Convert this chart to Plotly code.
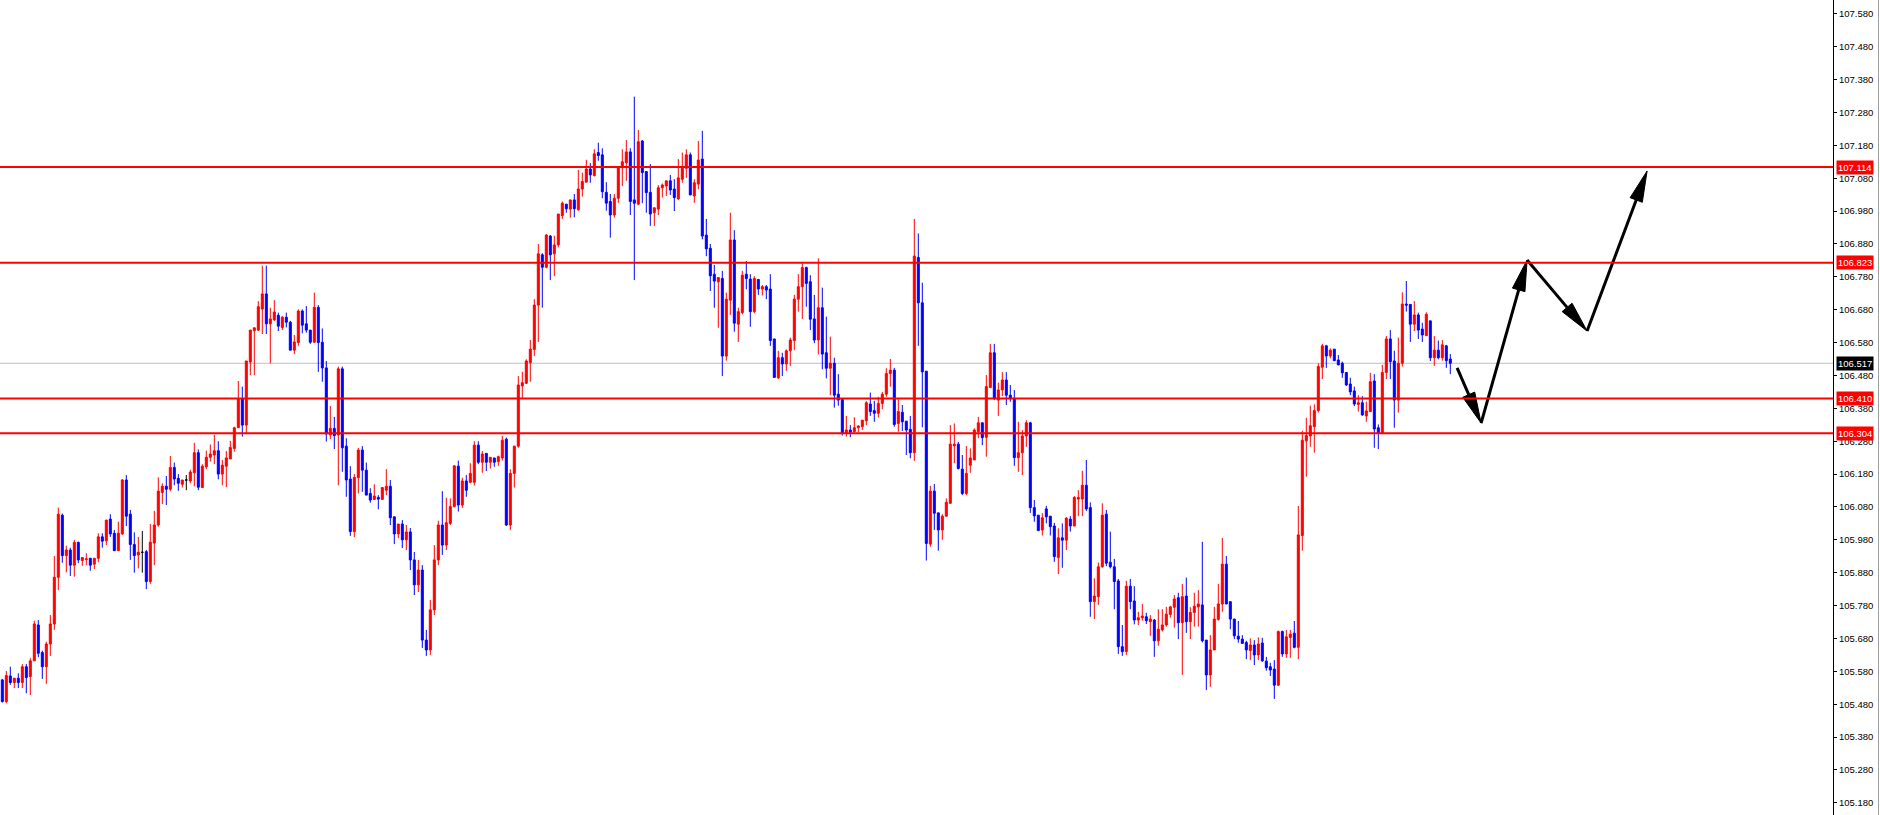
import numpy as np
import plotly.graph_objects as go

# ---------------- data ----------------
opens = [
105.554,105.488,105.566,105.546,105.559,105.546,105.594,105.564,105.612,105.721,
105.637,105.594,105.663,105.724,105.866,106.055,105.932,105.949,105.903,105.972,
105.917,105.920,105.924,105.906,105.924,105.989,105.977,106.043,106.000,105.947,
105.998,106.162,106.058,105.966,105.934,105.942,105.944,105.853,105.970,106.025,
106.124,106.143,106.134,106.200,106.167,106.149,106.162,106.159,106.184,106.245,
106.139,106.202,106.231,106.238,106.251,106.180,106.204,106.226,106.258,106.321,
106.408,106.329,106.521,106.616,106.618,106.682,106.728,106.637,106.649,106.663,
106.626,106.657,106.642,106.557,106.580,106.676,106.637,106.618,106.581,106.687,
106.581,106.503,106.299,106.319,106.299,106.500,106.265,106.165,106.005,106.169,
106.253,106.192,106.121,106.103,106.109,106.103,106.131,106.143,106.050,105.998,
106.028,105.980,106.004,105.919,105.843,105.888,105.675,105.645,105.767,105.919,
106.025,105.964,106.030,106.081,106.204,106.086,106.159,106.155,106.155,106.268,
106.216,106.243,106.216,106.229,106.218,106.229,106.286,106.025,106.182,106.265,
106.448,106.456,106.519,106.559,106.694,106.847,106.809,106.904,106.850,106.877,
106.966,107.001,106.986,107.014,106.984,107.047,107.068,107.108,107.088,107.158,
107.151,107.037,107.009,106.968,107.019,107.112,107.127,107.160,107.014,107.001,
107.193,107.100,107.037,106.975,106.986,107.051,107.056,107.072,107.047,107.017,
107.077,107.110,107.151,107.026,107.062,107.138,106.907,106.867,106.788,106.765,
106.775,106.539,106.709,106.892,106.636,106.671,106.788,106.773,106.674,106.772,
106.743,106.750,106.743,106.591,106.473,106.534,106.515,106.555,106.586,106.712,
106.750,106.808,106.765,106.652,106.588,106.686,106.549,106.502,106.517,106.423,
106.407,106.304,106.314,106.309,106.321,106.324,106.342,106.393,106.373,106.365,
106.395,106.423,106.486,106.496,106.334,106.368,106.341,106.316,106.245,106.839,
106.701,106.493,105.967,106.128,106.062,106.010,106.052,106.091,106.266,106.271,
106.195,106.121,106.207,106.223,106.309,106.336,106.292,106.443,106.549,106.405,
106.436,106.466,106.420,106.411,106.230,106.245,106.296,106.336,106.078,106.055,
106.010,106.074,106.052,106.022,105.926,105.986,105.979,106.043,106.022,106.104,
106.104,106.146,106.078,105.792,105.807,105.898,106.058,105.912,105.898,105.855,
105.655,105.640,105.839,105.794,105.736,105.743,105.746,105.731,105.736,105.673,
105.706,105.721,105.753,105.775,105.804,105.728,105.809,105.731,105.759,105.776,
105.782,105.675,105.569,105.645,105.738,105.785,105.906,105.792,105.739,105.687,
105.678,105.668,105.643,105.660,105.630,105.666,105.611,105.594,105.587,105.538,
105.701,105.633,105.683,105.696,105.653,105.993,106.281,106.296,106.324,106.373,
106.505,106.570,106.539,106.560,106.527,106.517,106.489,106.454,106.433,106.392,
106.397,106.357,106.370,106.463,106.321,106.304,106.489,106.591,106.524,106.405,
106.517,106.697,106.696,106.636,106.664,106.621,106.601,106.646,106.534,106.557,
106.534,106.570,106.530]

highs = [
105.557,105.581,105.594,105.560,105.574,105.602,105.602,105.620,105.734,105.736,
105.643,105.670,105.751,105.931,106.078,106.060,105.962,105.956,105.980,105.975,
105.926,105.939,105.924,105.924,106.000,106.000,106.040,106.058,106.010,106.035,
106.165,106.177,106.071,106.003,105.989,106.007,105.949,106.028,106.068,106.170,
106.152,106.174,106.235,106.215,106.180,106.162,106.177,106.193,106.275,106.255,
106.210,106.251,106.270,106.299,106.280,106.223,106.250,106.281,106.324,106.463,
106.446,106.524,106.618,106.625,106.706,106.814,106.814,106.686,106.709,106.671,
106.661,106.671,106.646,106.603,106.681,106.681,106.691,106.618,106.732,106.694,
106.623,106.524,106.387,106.354,106.507,106.507,106.289,106.204,106.180,106.260,
106.265,106.215,106.137,106.149,106.116,106.139,106.195,106.162,106.050,106.028,
106.040,106.025,106.016,105.943,105.919,105.903,105.706,105.797,105.964,106.038,
106.128,106.108,106.106,106.207,106.221,106.169,106.177,106.213,106.280,106.280,
106.250,106.243,106.231,106.229,106.236,106.296,106.291,106.195,106.265,106.478,
106.491,106.529,106.588,106.712,106.880,106.852,106.910,106.907,106.905,106.971,
107.009,107.001,107.014,107.032,107.105,107.097,107.136,107.126,107.168,107.188,
107.171,107.068,107.032,107.032,107.112,107.168,107.196,107.171,107.328,107.227,
107.196,107.102,107.123,106.990,107.059,107.064,107.072,107.090,107.077,107.138,
107.158,107.168,107.158,107.077,107.193,107.224,106.956,106.880,106.816,106.778,
106.798,106.732,106.975,106.922,106.686,106.798,106.828,106.788,106.782,106.772,
106.755,106.755,106.788,106.591,106.555,106.549,106.559,106.595,106.725,106.788,
106.821,106.811,106.785,106.725,106.836,106.747,106.659,106.598,106.534,106.484,
106.407,106.357,106.329,106.353,106.329,106.344,106.402,106.428,106.403,106.415,
106.430,106.502,106.530,106.503,106.407,106.390,106.341,106.357,106.956,106.912,
106.762,106.493,106.144,106.150,106.062,106.058,106.106,106.329,106.334,106.278,
106.238,106.265,106.258,106.319,106.354,106.336,106.481,106.576,106.576,106.458,
106.490,106.490,106.451,106.436,106.339,106.314,106.344,106.339,106.101,106.055,
106.061,106.083,106.052,106.032,106.015,106.030,106.049,106.052,106.113,106.131,
106.190,106.223,106.094,105.863,105.911,106.091,106.071,106.005,105.922,105.861,
105.721,105.855,105.861,105.839,105.761,105.785,105.758,105.751,105.739,105.769,
105.769,105.776,105.779,105.812,105.819,105.846,105.865,105.775,105.819,105.827,
105.974,105.675,105.690,105.776,105.846,105.986,105.931,105.792,105.739,105.733,
105.690,105.673,105.680,105.675,105.683,105.682,105.624,105.606,105.614,105.704,
105.704,105.706,105.706,105.733,106.083,106.312,106.351,106.388,106.392,106.517,
106.576,106.573,106.562,106.560,106.542,106.522,106.489,106.473,106.446,106.420,
106.417,106.400,106.488,106.484,106.331,106.512,106.600,106.618,106.555,106.595,
106.733,106.767,106.696,106.706,106.671,106.640,106.672,106.646,106.600,106.586,
106.588,106.573,106.545]

lows = [
105.485,105.483,105.539,105.529,105.529,105.529,105.513,105.508,105.612,105.623,
105.557,105.542,105.627,105.706,105.827,105.910,105.881,105.870,105.868,105.909,
105.901,105.903,105.886,105.891,105.912,105.956,105.964,105.989,105.947,105.947,
105.995,106.022,105.919,105.880,105.893,105.880,105.830,105.846,105.903,106.020,
106.089,106.086,106.128,106.146,106.129,106.139,106.131,106.152,106.143,106.131,
106.139,106.195,106.218,106.210,106.164,106.146,106.140,106.226,106.248,106.321,
106.294,106.304,106.481,106.481,106.615,106.606,106.606,106.517,106.646,106.615,
106.618,106.626,106.557,106.545,106.570,106.608,106.610,106.576,106.581,106.491,
106.461,106.279,106.286,106.256,106.146,106.187,106.111,105.992,105.988,106.121,
106.126,106.116,106.093,106.101,106.073,106.101,106.116,106.025,105.967,105.985,
105.955,105.949,105.888,105.812,105.821,105.651,105.627,105.630,105.751,105.903,
105.934,105.949,106.025,106.079,106.066,106.077,106.111,106.152,106.145,106.210,
106.184,106.189,106.197,106.202,106.205,106.221,106.022,106.010,106.139,106.260,
106.410,106.454,106.461,106.539,106.582,106.686,106.806,106.770,106.782,106.869,
106.956,106.975,106.960,106.961,106.981,107.024,107.068,107.066,107.085,107.133,
107.019,106.981,106.899,106.960,107.005,107.056,107.072,106.968,106.770,106.998,
107.004,106.975,106.935,106.935,106.968,107.021,107.026,107.029,106.980,107.014,
107.066,107.081,107.029,107.005,107.046,106.894,106.843,106.737,106.686,106.625,
106.478,106.525,106.664,106.613,106.582,106.666,106.742,106.628,106.669,106.725,
106.723,106.712,106.570,106.473,106.469,106.478,106.494,106.509,106.557,106.674,
106.652,106.689,106.618,106.578,106.544,106.499,106.471,106.420,106.382,106.388,
106.297,106.294,106.292,106.307,106.307,106.314,106.329,106.357,106.339,106.352,
106.377,106.415,106.446,106.324,106.309,106.311,106.238,106.228,106.220,106.570,
106.322,105.917,105.959,106.010,105.947,105.980,106.052,106.091,106.213,106.194,
106.116,106.116,106.184,106.223,106.289,106.268,106.233,106.443,106.405,106.357,
106.417,106.390,106.400,106.205,106.187,106.177,106.263,106.062,106.035,106.007,
105.993,106.030,105.993,105.913,105.876,105.895,105.949,106.005,106.022,106.052,
106.052,106.068,105.746,105.739,105.782,105.895,105.900,105.893,105.769,105.633,
105.627,105.630,105.769,105.723,105.721,105.734,105.724,105.688,105.624,105.658,
105.701,105.716,105.743,105.713,105.678,105.569,105.697,105.678,105.716,105.716,
105.668,105.523,105.533,105.645,105.734,105.761,105.785,105.708,105.678,105.667,
105.665,105.617,105.614,105.599,105.614,105.609,105.582,105.566,105.496,105.535,
105.624,105.621,105.621,105.650,105.617,105.947,106.172,106.263,106.245,106.367,
106.469,106.503,106.532,106.525,106.512,106.473,106.448,106.420,106.387,106.370,
106.357,106.339,106.370,106.260,106.256,106.304,106.469,106.469,106.321,106.367,
106.507,106.674,106.582,106.615,106.591,106.582,106.601,106.524,106.509,106.529,
106.525,106.503,106.484]

closes = [
105.488,105.567,105.546,105.559,105.546,105.594,105.561,105.612,105.724,105.635,
105.594,105.663,105.724,105.866,106.058,105.932,105.949,105.903,105.972,105.919,
105.926,105.922,105.903,105.924,105.989,105.976,106.040,105.998,105.947,106.000,
106.162,106.052,105.966,105.932,105.942,105.942,105.853,105.973,106.025,106.128,
106.143,106.134,106.200,106.165,106.152,106.162,106.162,106.186,106.245,106.140,
106.204,106.231,106.241,106.251,106.180,106.207,106.229,106.261,106.321,106.408,
106.329,106.524,106.618,106.625,106.689,106.728,106.637,106.652,106.673,106.630,
106.657,106.642,106.557,106.582,106.676,106.633,106.618,106.581,106.687,106.580,
106.503,106.302,106.319,106.297,106.500,106.260,106.162,106.005,106.170,106.253,
106.192,106.116,106.101,106.113,106.104,106.139,106.143,106.047,105.998,106.028,
105.980,106.004,105.919,105.843,105.888,105.675,105.645,105.767,105.919,106.025,
105.964,106.032,106.081,106.205,106.086,106.159,106.131,106.182,106.268,106.216,
106.241,106.216,106.231,106.216,106.233,106.283,106.025,106.182,106.265,106.451,
106.458,106.524,106.560,106.694,106.850,106.809,106.907,106.847,106.877,106.971,
107.004,106.987,107.014,106.987,107.047,107.070,107.108,107.090,107.154,107.149,
107.039,107.004,106.968,107.019,107.112,107.130,107.160,107.009,107.004,107.191,
107.097,107.036,106.971,106.990,107.051,107.059,107.072,107.044,107.021,107.081,
107.110,107.151,107.029,107.066,107.135,106.904,106.865,106.783,106.767,106.778,
106.539,106.712,106.892,106.639,106.674,106.785,106.775,106.674,106.775,106.743,
106.750,106.740,106.586,106.474,106.534,106.515,106.555,106.588,106.712,106.750,
106.808,106.760,106.651,106.588,106.686,106.545,106.502,106.517,106.420,106.405,
106.304,106.314,106.307,106.321,106.326,106.344,106.397,106.370,106.365,106.395,
106.423,106.486,106.496,106.331,106.370,106.339,106.314,106.245,106.843,106.701,
106.491,105.969,106.128,106.061,106.010,106.052,106.094,106.271,106.271,106.197,
106.121,106.182,106.229,106.314,106.336,106.291,106.446,106.549,106.410,106.436,
106.466,106.420,106.411,106.230,106.245,106.296,106.336,106.078,106.053,106.008,
106.047,106.050,106.020,105.929,105.986,105.979,106.046,106.022,106.109,106.109,
106.146,106.074,105.792,105.809,105.898,106.055,105.909,105.898,105.853,105.655,
105.640,105.839,105.792,105.736,105.743,105.748,105.734,105.739,105.673,105.708,
105.721,105.754,105.776,105.800,105.728,105.807,105.731,105.759,105.778,105.785,
105.673,105.569,105.645,105.739,105.785,105.906,105.785,105.739,105.688,105.678,
105.665,105.645,105.660,105.630,105.663,105.612,105.591,105.584,105.538,105.701,
105.633,105.685,105.693,105.653,105.995,106.283,106.297,106.327,106.373,106.507,
106.570,106.539,106.557,106.525,106.512,106.488,106.451,106.430,106.393,106.397,
106.360,106.372,106.461,106.317,106.304,106.489,106.591,106.522,106.405,106.517,
106.697,106.694,106.636,106.664,106.618,106.603,106.666,106.534,106.557,106.534,
106.573,106.525,106.517]

level_prices = [107.114, 106.823, 106.410, 106.304]
current_price = 106.517

tick_labels = ["107.580", "107.480", "107.380", "107.280", "107.180", "107.080",
               "106.980", "106.880", "106.780", "106.680", "106.580", "106.480",
               "106.380", "106.280", "106.180", "106.080", "105.980", "105.880",
               "105.780", "105.680", "105.580", "105.480", "105.380", "105.280",
               "105.180"]

# forecast path drawn after the last bar (bar index, price)
arrow_bar = [363.7, 369.7, 381.2, 396.2, 411.2]
arrow_price = [106.503, 106.335, 106.831, 106.615, 107.102]

# ---------------- figure ----------------
W, H = 1880, 815
ML, MR, MT, MB = 0, 47, 0, 0
X_RANGE = [-0.575, 457.675]
Y_RANGE = [105.143, 107.622]

o = np.array(opens); h = np.array(highs); l = np.array(lows); c = np.array(closes)
idx = np.arange(len(o))
doji = o == c
reg = ~doji

fig = go.Figure()
fig.add_trace(go.Candlestick(
    x=idx[reg], open=o[reg], high=h[reg], low=l[reg], close=c[reg],
    increasing=dict(line=dict(color="#FF0000", width=1), fillcolor="#FF0000"),
    decreasing=dict(line=dict(color="#0000FF", width=1), fillcolor="#0000FF"),
    whiskerwidth=0, showlegend=False, hoverinfo="skip"))
fig.add_trace(go.Candlestick(
    x=idx[doji], open=o[doji], high=h[doji], low=l[doji], close=c[doji],
    increasing=dict(line=dict(color="#000000", width=1), fillcolor="#000000"),
    decreasing=dict(line=dict(color="#000000", width=1), fillcolor="#000000"),
    whiskerwidth=0, showlegend=False, hoverinfo="skip"))

# arrows: segments + narrow filled heads computed in pixel space
pw = W - ML - MR
ph = H - MT - MB
sx = pw / (X_RANGE[1] - X_RANGE[0])
sy = ph / (Y_RANGE[1] - Y_RANGE[0])
head_len, head_half = 31.0, 6.5
for k in range(len(arrow_bar) - 1):
    x0, y0 = arrow_bar[k], arrow_price[k]
    x1, y1 = arrow_bar[k + 1], arrow_price[k + 1]
    dx = (x1 - x0) * sx
    dy = -(y1 - y0) * sy
    L = np.hypot(dx, dy)
    ux, uy = dx / L, dy / L
    nx, ny = -uy, ux
    bx = x1 - ux * head_len / sx
    by = y1 + uy * head_len / sy
    fig.add_trace(go.Scatter(x=[x0, bx], y=[y0, by], mode="lines",
                             line=dict(color="#000000", width=3),
                             showlegend=False, hoverinfo="skip"))
    hx = [x1, bx + nx * head_half / sx, bx - nx * head_half / sx, x1]
    hy = [y1, by - ny * head_half / sy, by + ny * head_half / sy, y1]
    fig.add_trace(go.Scatter(x=hx, y=hy, mode="lines", fill="toself",
                             fillcolor="#000000",
                             line=dict(color="#000000", width=1),
                             showlegend=False, hoverinfo="skip"))

shapes = []
shapes.append(dict(type="line", xref="paper", yref="y", x0=0, x1=1,
                   y0=current_price, y1=current_price, layer="below",
                   line=dict(color="#C0C0C0", width=1)))
for p in level_prices:
    shapes.append(dict(type="line", xref="paper", yref="y", x0=0, x1=1,
                       y0=p, y1=p, line=dict(color="#FF0000", width=2)))
edge = (W - 1.5 - ML) / pw
shapes.append(dict(type="line", xref="paper", yref="paper", x0=edge, x1=edge,
                   y0=0, y1=1, line=dict(color="#A0A0A0", width=1)))

annotations = []
for p in level_prices:
    annotations.append(dict(xref="paper", yref="y", x=1, y=p, xanchor="left",
                            yanchor="middle", xshift=3, showarrow=False,
                            text=f"{p:.3f}", bgcolor="#FF0000", borderpad=1,
                            font=dict(family="Liberation Sans", size=9.5,
                                      color="#FFFFFF")))
annotations.append(dict(xref="paper", yref="y", x=1, y=current_price,
                        xanchor="left", yanchor="middle", xshift=3,
                        showarrow=False, text=f"{current_price:.3f}",
                        bgcolor="#000000", borderpad=1,
                        font=dict(family="Liberation Sans", size=9.5,
                                  color="#FFFFFF")))

fig.update_layout(
    width=W, height=H,
    margin=dict(l=ML, r=MR, t=MT, b=MB, pad=0),
    paper_bgcolor="#FFFFFF", plot_bgcolor="#FFFFFF",
    boxgap=0.5, boxgroupgap=0,
    showlegend=False,
    shapes=shapes, annotations=annotations,
    xaxis=dict(range=X_RANGE, visible=False, rangeslider=dict(visible=False),
               showgrid=False, zeroline=False),
    yaxis=dict(range=Y_RANGE, side="right", showgrid=False, zeroline=False,
               showline=True, linecolor="#000000", linewidth=1,
               ticks="outside", ticklen=3, tickcolor="#000000", tickwidth=1,
               tickvals=[float(t) for t in tick_labels], ticktext=tick_labels,
               tickfont=dict(family="Liberation Sans", size=9.5, color="#000000")),
)

fig.write_html("out.html", config={"displayModeBar": False},
               post_script="document.body.style.margin='0';document.body.style.overflow='hidden';")
